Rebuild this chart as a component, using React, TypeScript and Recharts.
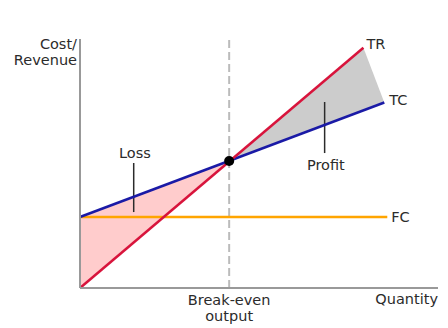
import {
  ComposedChart, Line, Area, XAxis, YAxis, ReferenceLine, ReferenceDot,
} from 'recharts'

// quantity on x (0..120), cost / revenue on y (0..100)
const trPoints = [{ q: 0, tr: 0 }, { q: 95, tr: 96.5 }]
const tcPoints = [{ q: 0, tc: 28.5 }, { q: 102, tc: 74.5 }]
const fcPoints = [{ q: 0, fc: 28.5 }, { q: 103, fc: 28.5 }]
const breakEven = { q: 50, v: 51 }
const lossBand = [{ q: 0, loss: [0, 28.5] }, { q: 50, loss: [51, 51] }]
const profitBand = [
  { q: 50, profit: [51, 51] },
  { q: 95, profit: [71.3, 96.5] },
  { q: 102, profit: [74.5, 74.5] },
]
const xTicks = [50]
const xTickLines = ['Break-even', 'output']
const yTitle = ['Cost/', 'Revenue']

const FONT = '"DejaVu Sans", Verdana, sans-serif'
const FS = 14.5
const TEXT = '#2b2b2b'

const endLabel = (name: string, last: number, dx: number, dy: number) =>
  (props: any) => {
    if (props.index !== last) return null
    return (
      <text x={props.x + dx} y={props.y + dy} dy="0.35em" fontSize={FS}
        fontFamily={FONT} fill={TEXT}>{name}</text>
    )
  }

const noteLabel = (text: string) => (props: any) => {
  const vb = props.viewBox ?? {}
  const cx = (vb.x ?? 0) + (vb.width ?? 0) / 2
  const cy = (vb.y ?? 0) + (vb.height ?? 0) / 2
  return (
    <text x={cx} y={cy} dy="0.35em" textAnchor="middle" fontSize={FS}
      fontFamily={FONT} fill={TEXT}>{text}</text>
  )
}

const BreakEvenTick = ({ x, y }: any) => (
  <text x={x} y={y} textAnchor="middle" fontSize={FS} fontFamily={FONT} fill={TEXT}>
    {xTickLines.map((t, i) => (
      <tspan key={t} x={x} dy={i === 0 ? 8.5 : 16}>{t}</tspan>
    ))}
  </text>
)

export default function App() {
  return (
    <div style={{ position: 'absolute', left: 0, top: 0, width: 448, height: 328, background: '#fff' }}>
      <ComposedChart width={448} height={328} margin={{ top: 39, right: 10, bottom: 0, left: 0 }}>
        <XAxis
          type="number"
          dataKey="q"
          domain={[0, 120]}
          ticks={xTicks}
          height={40}
          tickLine={false}
          axisLine={{ stroke: '#999', strokeWidth: 2 }}
          tick={<BreakEvenTick />}
          allowDuplicatedCategory={false}
          label={(p: any) => (
            <text x={p.viewBox.x + p.viewBox.width} y={p.viewBox.y + 16}
              textAnchor="end" fontSize={FS} fontFamily={FONT} fill={TEXT}>Quantity</text>
          )}
        />
        <YAxis
          type="number"
          domain={[0, 100]}
          width={80}
          tick={false}
          tickLine={false}
          axisLine={{ stroke: '#999', strokeWidth: 2 }}
          label={(p: any) => (
            <text x={p.viewBox.x + p.viewBox.width - 3} y={p.viewBox.y} textAnchor="end"
              fontSize={FS} fontFamily={FONT} fill={TEXT}>
              {yTitle.map((t, i) => (
                <tspan key={t} x={p.viewBox.x + p.viewBox.width - 3} dy={i === 0 ? 9.5 : 16}>{t}</tspan>
              ))}
            </text>
          )}
        />

        <Area data={lossBand} dataKey="loss" type="linear" fill="#FFCCCC" fillOpacity={1}
          stroke="none" isAnimationActive={false} />
        <Area data={profitBand} dataKey="profit" type="linear" fill="#CCCCCC" fillOpacity={1}
          stroke="none" isAnimationActive={false} />

        <ReferenceLine x={breakEven.q} stroke="#bbb" strokeWidth={2} strokeDasharray="8 4" />

        {/* leader lines for the notes */}
        <ReferenceLine segment={[{ x: 18, y: 50.2 }, { x: 18, y: 30.5 }]} stroke={TEXT} strokeWidth={1.5} />
        <ReferenceLine segment={[{ x: 82, y: 74.7 }, { x: 82, y: 54.2 }]} stroke={TEXT} strokeWidth={1.5} />
        <ReferenceDot x={18.4} y={54.4} r={0} fill="none" stroke="none" label={noteLabel('Loss')} />
        <ReferenceDot x={82.4} y={49.4} r={0} fill="none" stroke="none" label={noteLabel('Profit')} />

        <Line data={fcPoints} dataKey="fc" type="linear" stroke="#FFA500" strokeWidth={2.5}
          dot={false} isAnimationActive={false} label={endLabel('FC', 1, 4, 0)} />
        <Line data={tcPoints} dataKey="tc" type="linear" stroke="#1A1AA6" strokeWidth={2.5}
          dot={false} isAnimationActive={false} label={endLabel('TC', 1, 5, -3)} />
        <Line data={trPoints} dataKey="tr" type="linear" stroke="#D8143C" strokeWidth={2.5}
          dot={false} isAnimationActive={false} label={endLabel('TR', 1, 3, -4)} />

        <ReferenceDot x={breakEven.q} y={breakEven.v} r={5} fill="#000" stroke="none" />
      </ComposedChart>
    </div>
  )
}
